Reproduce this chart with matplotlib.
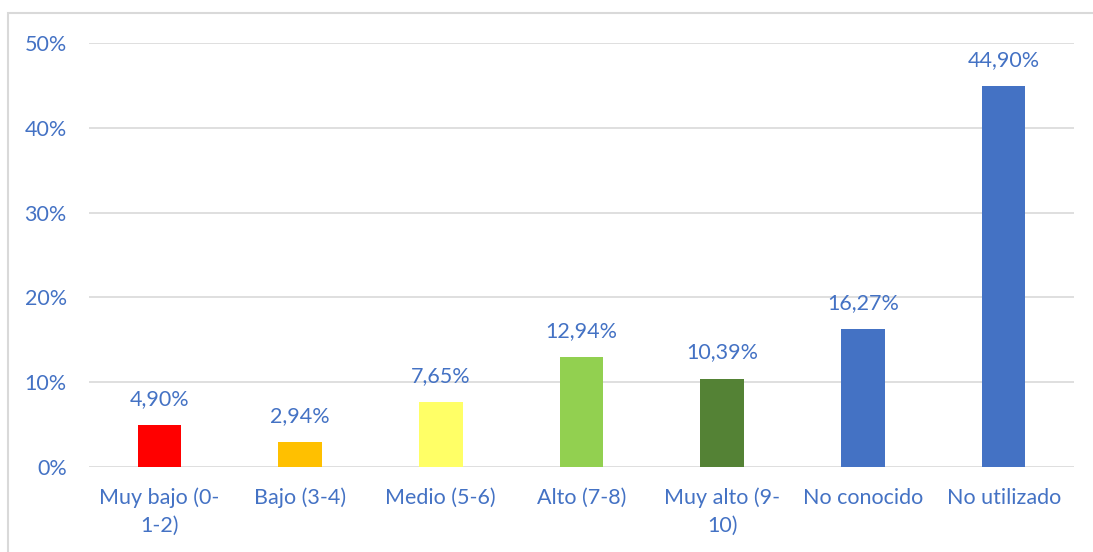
import matplotlib.pyplot as plt
from matplotlib.patches import Rectangle

categories = ["Muy bajo (0-\n1-2)", "Bajo (3-4)", "Medio (5-6)", "Alto (7-8)",
              "Muy alto (9-\n10)", "No conocido", "No utilizado"]
values = [4.90, 2.94, 7.65, 12.94, 10.39, 16.27, 44.90]
bar_colors = ["#FF0000", "#FFC000", "#FFFF66", "#92D050", "#548235", "#4472C4", "#4472C4"]
yticks = [0, 10, 20, 30, 40, 50]

text_color = "#4472C4"
fs = 15.5
plt.rcParams['font.family'] = ['Lato', 'DejaVu Sans']

fig = plt.figure(figsize=[10.93, 5.52], dpi=100)
W, H = 1093, 552
# chart border (partly cut off at right and bottom)
fig.patches.append(Rectangle((8 / W, -0.05), 1.2, 1 - 13 / H + 0.05, transform=fig.transFigure,
                             fill=False, edgecolor="#D9D9D9", linewidth=1.5))

ax = fig.add_axes([89 / W, 1 - 467 / H, (1074 - 89) / W, (467 - 43) / H])
x = list(range(len(categories)))
ax.bar(x, values, width=0.31, color=bar_colors, zorder=3)
ax.set_xlim(-0.5, len(categories) - 0.5)
ax.set_ylim(0, 50)
ax.set_yticks(yticks)
ax.set_yticklabels([f"{t}%" for t in yticks])
ax.set_xticks(x)
ax.set_xticklabels(categories, linespacing=1.45)
ax.yaxis.grid(True, color="#D9D9D9", linewidth=1.2, zorder=0)
for s in ax.spines.values():
    s.set_visible(False)
ax.tick_params(length=0, colors=text_color, labelsize=fs)
ax.tick_params(axis='y', pad=16)
ax.tick_params(axis='x', pad=15)

for xi, v in zip(x, values):
    ax.annotate(f"{v:.2f}%".replace(".", ","), (xi, v), xytext=(0, 19),
                textcoords="offset points", ha="center", va="center",
                color=text_color, fontsize=fs)

fig.savefig("out.png", dpi=100)
